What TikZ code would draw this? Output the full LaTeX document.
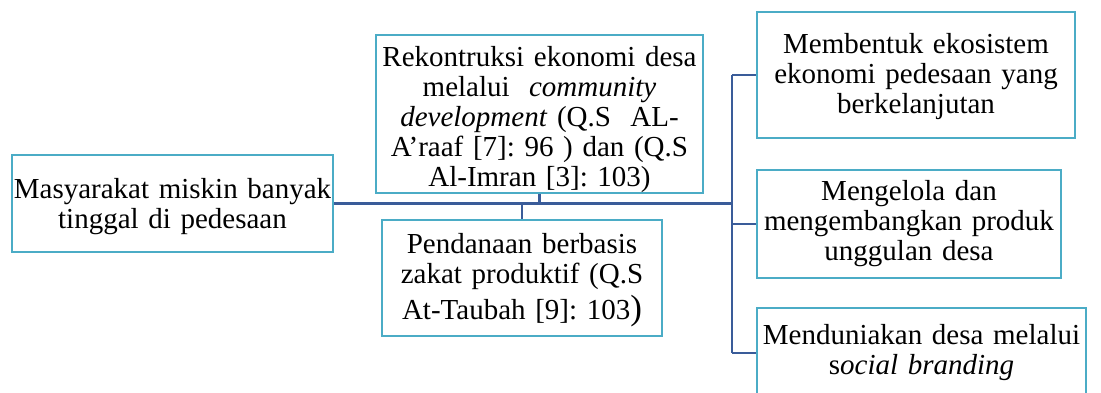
\documentclass[tikz,border=0pt]{standalone}
\usepackage{fontspec}
\setmainfont{Liberation Serif}
\usepackage{xcolor}
\usetikzlibrary{calc}
\definecolor{tepi}{HTML}{4BACC6}
\definecolor{garisb}{HTML}{3A5C99}
\frenchspacing
\tikzset{
    kotak/.style={draw=tepi, line width=2.5pt, fill=white, inner sep=0pt,
        align=center, font=\fontsize{29}{30}\selectfont\frenchspacing},
    garis/.style={draw=garisb, line width=2.8pt}
}

\begin{document}
\begin{tikzpicture}[x=1pt, y=-1pt]
			% Frame of the picture
			\path[use as bounding box, clip] (0,0) rectangle (1101,392);

			% Boxes
			\node[kotak, text width=321pt, minimum height=97pt] (masyarakat) at (172.5,203.5)
				{\rule{0pt}{27pt}Masyarakat miskin banyak\\ tinggal di pedesaan};
			\node[kotak, text width=327pt, minimum height=158pt] (rekonstruksi) at (539.5,114)
				{\rule{0pt}{32pt}Rekontruksi ekonomi desa\\ melalui\ \ \textit{community}\\ \textit{development} (Q.S\ \ AL-\\ A’raaf [7]: 96 ) dan (Q.S\\ Al-Imran [3]: 103)};
			\node[kotak, text width=280pt, minimum height=116pt] (pendanaan) at (522,278)
				{\rule{0pt}{24pt}Pendanaan berbasis\\ zakat produktif (Q.S\\[5pt] At-Taubah [9]: 103{\fontsize{35}{30}\selectfont)}};
			\node[kotak, text width=318pt, minimum height=126pt] (ekosistem) at (916,75)
				{\rule{0pt}{24pt}Membentuk ekosistem\\ ekonomi pedesaan yang\\ berkelanjutan};
			\node[kotak, text width=304pt, minimum height=108pt] (produk) at (909,224)
				{Mengelola dan\\ mengembangkan produk\\ unggulan desa};
			\node[kotak, text width=329pt, minimum height=90pt] (branding) at (921.5,353)
				{Menduniakan desa melalui\\ s\textit{ocial branding}};

			% Trunk on the right
			\coordinate (batang) at (732,203.5);

			% Connectors
			\draw[garis] (masyarakat.east) -- (batang);
			\draw[garis] (rekonstruksi.south) -- (rekonstruksi.south |- batang);
			\draw[garis] (pendanaan.north) -- (pendanaan.north |- batang);
			\draw[garis] (ekosistem.west -| batang) -- (branding.west -| batang);
			\draw[garis] (ekosistem.west -| batang) -- (ekosistem.west);
			\draw[garis] (produk.west -| batang) -- (produk.west);
			\draw[garis] (branding.west -| batang) -- (branding.west);
		\end{tikzpicture}
\end{document}
